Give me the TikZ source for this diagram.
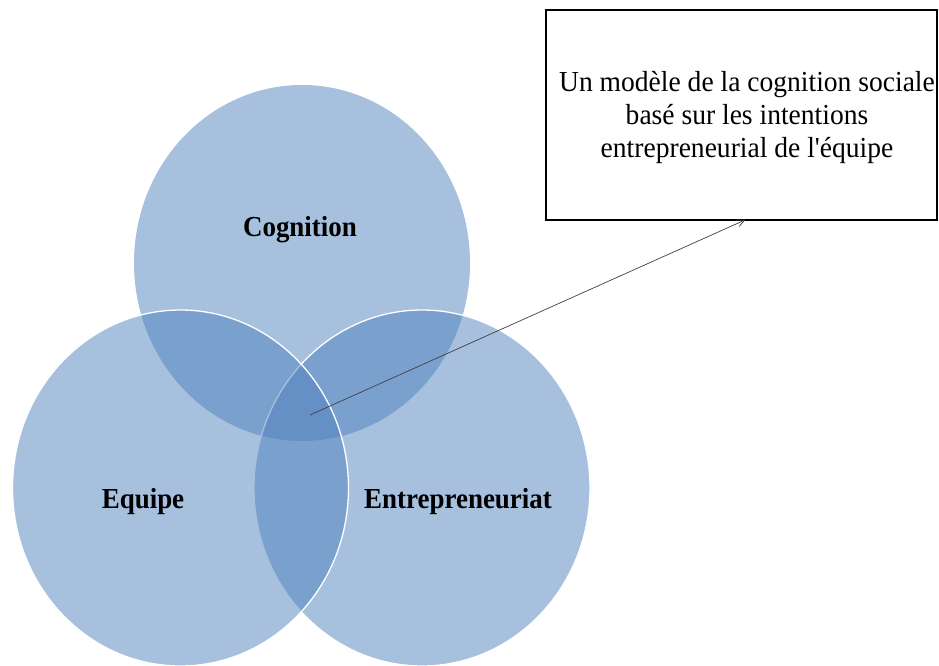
\documentclass[tikz,border=0pt]{standalone}
\usepackage{fontspec}
\setmainfont{Liberation Serif}
\newfontfamily\boxfont{Liberation Serif}
\usetikzlibrary{shapes.geometric,arrows.meta}
\definecolor{venn}{HTML}{4F81BD}
\tikzset{
  setshape/.style={ellipse, inner sep=0pt, minimum width=336pt, minimum height=356pt,
    fill=venn, fill opacity=0.5, draw=white, line width=1.3pt},
  setlabel/.style={font=\fontsize{29}{33}\selectfont\bfseries, xscale=0.93, inner sep=0pt},
  notebox/.style={draw=black, line width=1.8pt, minimum width=391pt, minimum height=210pt, inner sep=0pt},
  notetext/.style={font=\boxfont\fontsize{29}{33}\selectfont, xscale=0.95, align=center, inner sep=0pt},
  pointer/.style={draw=black!75, line width=0.7pt, -{Straight Barb[length=7pt,width=7pt]}}
}
\begin{document}
\begin{tikzpicture}[x=1pt,y=-1pt]
\useasboundingbox (0,0) rectangle (939,666);
\node[setshape, draw=none] (cog) at (302,263) {};
\node[setshape] (ent) at (422,488) {};
\node[setshape] (equ) at (180.5,488) {};
\node[setlabel] (lcog) at (300,230) {Cognition};
\node[setlabel] (lequ) at (143,502) {Equipe};
\node[setlabel] (lent) at (458,502) {Entrepreneuriat};
\node[notebox] (box) at (741.5,115) {};
\node[notetext] (txt) at (747,118) {Un modèle de la cognition sociale\\basé sur les intentions\\entrepreneurial de l'équipe};
\coordinate (core) at (310,415);
\coordinate (tip) at (745,220);
\draw[pointer] (core) -- (tip);
\end{tikzpicture}
\end{document}
